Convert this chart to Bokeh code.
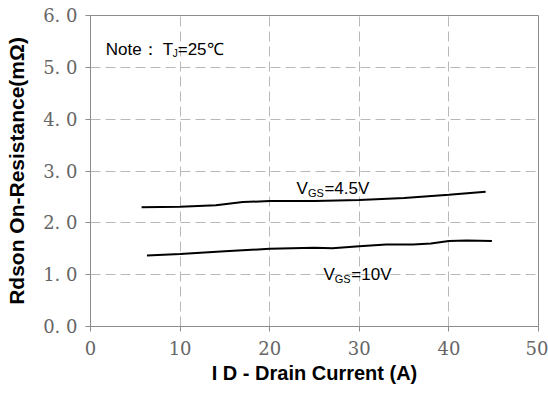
from bokeh.plotting import figure
from bokeh.models import Range1d, FixedTicker, Label
from bokeh.embed import file_html
from bokeh.resources import INLINE

# Data
id_45 = [5.7, 10, 14, 17, 20, 25, 30, 35, 40, 44.1]
r_45 = [2.30, 2.31, 2.34, 2.40, 2.42, 2.42, 2.44, 2.48, 2.54, 2.60]
id_10 = [6.3, 10, 15, 20, 25, 27, 30, 33, 36, 38, 40, 42, 44.8]
r_10 = [1.37, 1.40, 1.45, 1.50, 1.52, 1.51, 1.55, 1.58, 1.58, 1.60, 1.65, 1.66, 1.65]
x_ticks = [0, 10, 20, 30, 40, 50]
y_ticks = [0, 1, 2, 3, 4, 5, 6]
y_tick_labels = ["0. 0", "1. 0", "2. 0", "3. 0", "4. 0", "5. 0", "6. 0"]

GRID = "#b8b8b8"
AXIS = "#8c8c8c"
TICKFONT = "DejaVu Serif"
SANS = "Liberation Sans"

p = figure(width=548, height=405, output_backend="svg", toolbar_location=None,
           x_range=Range1d(0, 50), y_range=Range1d(0, 6),
           min_border_left=90, min_border_right=10, min_border_top=15, min_border_bottom=79)
p.background_fill_color = "white"
p.border_fill_color = "white"
p.outline_line_color = AXIS
p.outline_line_width = 1

p.xaxis.ticker = FixedTicker(ticks=x_ticks)
p.yaxis.ticker = FixedTicker(ticks=y_ticks)
p.yaxis.major_label_overrides = {t: lab for t, lab in zip(y_ticks, y_tick_labels)}

for ax in (p.xaxis, p.yaxis):
    ax.axis_line_color = AXIS
    ax.major_tick_line_color = AXIS
    ax.minor_tick_line_color = None
    ax.major_tick_out = 5
    ax.major_tick_in = 0
    ax.major_label_text_font = TICKFONT
    ax.major_label_text_font_size = "18px"
    ax.major_label_text_color = "#666666"
    ax.axis_label_text_font = SANS
    ax.axis_label_text_font_style = "bold"
    ax.axis_label_text_color = "black"

p.xaxis.axis_label_text_font_size = "20px"
p.yaxis.axis_label_text_font_size = "21px"
p.xaxis.axis_label = "I D - Drain Current (A)"
p.yaxis.axis_label = "Rdson On-Resistance(mΩ)"
p.xaxis.major_label_standoff = 9
p.yaxis.major_label_standoff = 8
p.xaxis.axis_label_standoff = 4
p.yaxis.axis_label_standoff = 12

p.xgrid.ticker = FixedTicker(ticks=[10, 20, 30, 40])
p.ygrid.ticker = FixedTicker(ticks=[1, 2, 3, 4, 5])
for g in (p.xgrid, p.ygrid):
    g.grid_line_color = GRID
    g.grid_line_dash = "10 5"
    g.grid_line_width = 1

p.line(id_45, r_45, line_color="black", line_width=2)
p.line(id_10, r_10, line_color="black", line_width=2)

def sublabel(x, y, main, sub, rest, size=17, subsize=11):
    p.add_layout(Label(x=x, y=y, text=main, text_font=SANS, text_font_size=f"{size}px",
                       text_color="black", text_baseline="alphabetic"))
    w_main = size * 0.667
    p.add_layout(Label(x=x, y=y, x_offset=w_main, y_offset=-4, text=sub, text_font=SANS,
                       text_font_size=f"{subsize}px", text_color="black",
                       text_baseline="alphabetic"))
    w_sub = subsize * 1.5
    p.add_layout(Label(x=x, y=y, x_offset=w_main + w_sub, text=rest, text_font=SANS,
                       text_font_size=f"{size}px", text_color="black",
                       text_baseline="alphabetic"))

sublabel(23.0, 2.66, "V", "GS", "=4.5V")
sublabel(26.0, 1.0, "V", "GS", "=10V")

# Note: TJ=25℃
NX, NY = 1.7, 5.35
p.add_layout(Label(x=NX, y=NY, text="Note：", text_font=SANS, text_font_size="17px",
                   text_color="black", text_baseline="alphabetic"))
p.add_layout(Label(x=NX, y=NY, x_offset=57, text="T", text_font=SANS, text_font_size="17px",
                   text_color="black", text_baseline="alphabetic"))
p.add_layout(Label(x=NX, y=NY, x_offset=67, y_offset=-4, text="J", text_font=SANS,
                   text_font_size="10px", text_color="black", text_baseline="alphabetic"))
p.add_layout(Label(x=NX, y=NY, x_offset=72, text="=25℃", text_font=SANS,
                   text_font_size="17px", text_color="black", text_baseline="alphabetic"))

open("out.html", "w").write(file_html(p, INLINE))
